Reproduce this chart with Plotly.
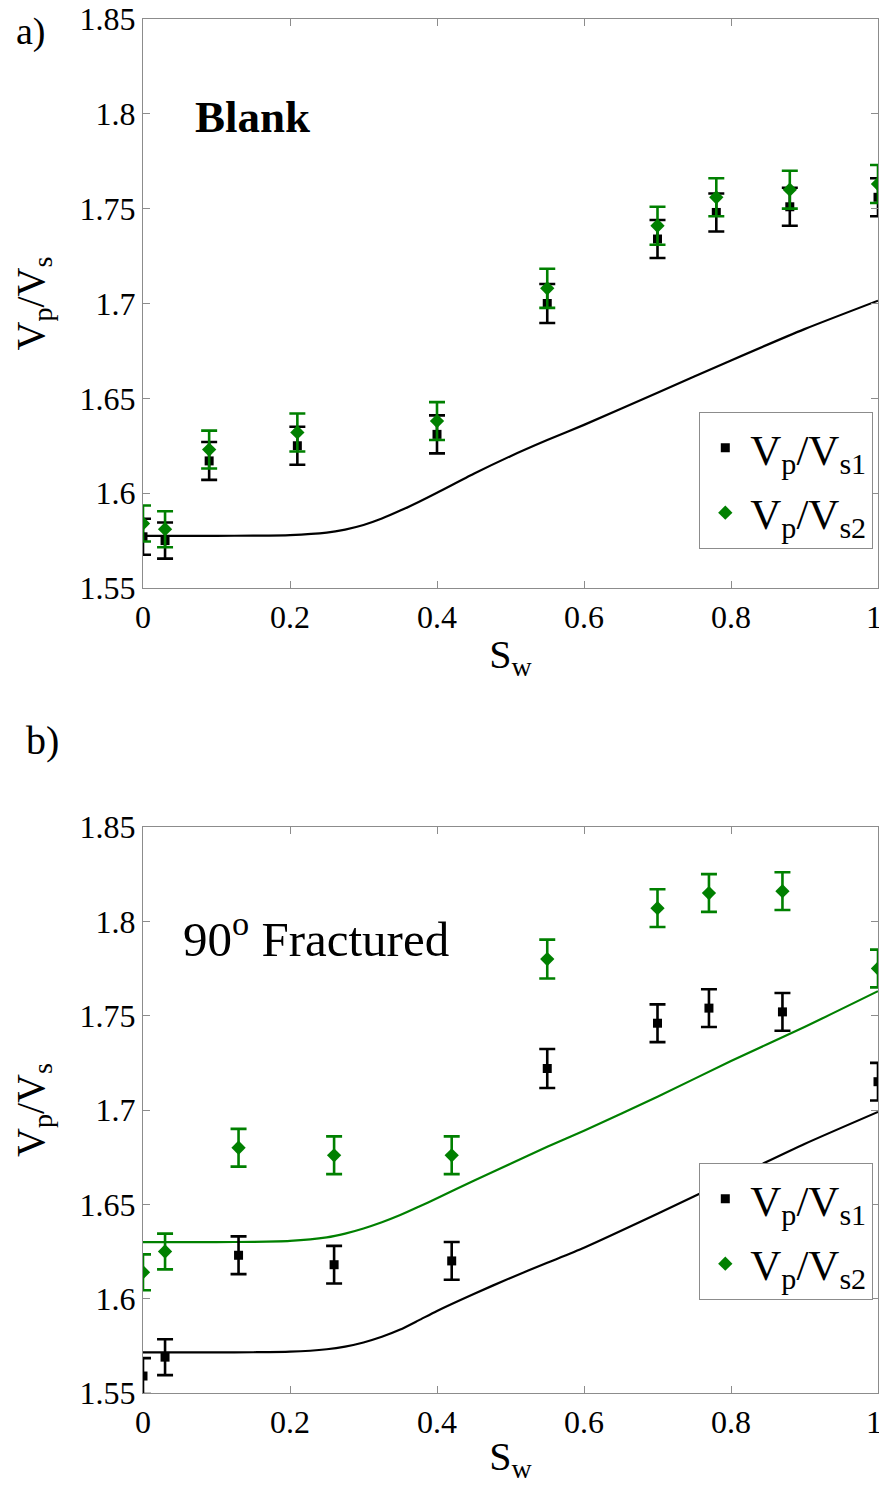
import plotly.graph_objects as go

# (a) Blank sample - measured points
sw_blank = [0, 0.03, 0.09, 0.21, 0.40, 0.55, 0.70, 0.78, 0.88, 1.0]
vs1_blank = [1.577, 1.575, 1.617, 1.625, 1.631, 1.700, 1.734, 1.748, 1.751, 1.756]
vs2_blank = [1.584, 1.581, 1.623, 1.632, 1.638, 1.708, 1.741, 1.756, 1.760, 1.763]
err_blank = [0.0095, 0.0095, 0.01, 0.01, 0.01, 0.0103, 0.01, 0.01, 0.01, 0.01]

# (b) 90 deg fractured sample - measured points
sw_frac = [0, 0.03, 0.13, 0.26, 0.42, 0.55, 0.70, 0.77, 0.87, 1.0]
vs1_frac = [1.559, 1.569, 1.623, 1.618, 1.620, 1.722, 1.746, 1.754, 1.752, 1.715]
vs2_frac = [1.614, 1.625, 1.680, 1.676, 1.676, 1.780, 1.807, 1.815, 1.816, 1.775]
err_frac = [0.0095, 0.0095, 0.01, 0.01, 0.01, 0.0103, 0.01, 0.01, 0.01, 0.01]

# model curves
sw_model = [0, 0.1, 0.15, 0.2, 0.25, 0.275, 0.3, 0.325, 0.35, 0.375, 0.4,
            0.45, 0.5, 0.55, 0.6, 0.7, 0.8, 0.9, 1.0]
model_blank = [1.5775, 1.5775, 1.5776, 1.5779, 1.5792, 1.5808, 1.5832, 1.5866, 1.5908, 1.5954, 1.6002,
               1.6102, 1.6195, 1.628, 1.636, 1.653, 1.670, 1.6865, 1.7015]
model_frac1 = [1.5715, 1.5715, 1.5716, 1.5719, 1.5732, 1.5746, 1.5768, 1.5798, 1.5836, 1.5885, 1.5935,
               1.6025, 1.611, 1.619, 1.627, 1.645, 1.6635, 1.682, 1.699]
model_frac2 = [1.630, 1.630, 1.6301, 1.6306, 1.6325, 1.6345, 1.6372, 1.6405, 1.6443, 1.6487, 1.6532,
               1.6625, 1.6715, 1.6805, 1.689, 1.707, 1.726, 1.744, 1.763]

x_ticks = [0, 0.2, 0.4, 0.6, 0.8, 1]
x_labels = ["0", "0.2", "0.4", "0.6", "0.8", "1&nbsp;"]
y_ticks = [1.55, 1.6, 1.65, 1.7, 1.75, 1.8, 1.85]
y_labels = ["1.55", "1.6", "1.65", "1.7", "1.75", "1.8", "1.85"]

BLACK = "black"
GREEN = "#008000"
FONT = "Liberation Serif"
# page has an 8px body margin, so the figure is a bit smaller than the window
OFF = 8
W, H = 887 - 2 * OFF, 1492 - 2 * OFF


def px(v):
    return min(max((v - OFF) / W, 0), 1)


def py(v):
    return min(max(1 - (v - OFF) / H, 0), 1)


fig = go.Figure()


def add_panel(fig, xa, ya, sw, v1, v2, err, lines, legend):
    for sx, sy, col in lines:
        fig.add_trace(go.Scatter(x=sx, y=sy, mode="lines",
                                 line=dict(color=col, width=2.2, shape="spline", smoothing=0.6),
                                 xaxis=xa, yaxis=ya, showlegend=False, hoverinfo="skip"))
    fig.add_trace(go.Scatter(x=sw, y=v1, mode="markers", name="V<sub>p</sub>/V<sub>s1</sub>",
                             marker=dict(symbol="square", size=9, color=BLACK),
                             error_y=dict(type="data", array=err, color=BLACK, thickness=2.6, width=8),
                             xaxis=xa, yaxis=ya, legend=legend, legendgroup=legend + "a"))
    fig.add_trace(go.Scatter(x=sw, y=v2, mode="markers", name="V<sub>p</sub>/V<sub>s2</sub>",
                             marker=dict(symbol="diamond", size=11, color=GREEN),
                             error_y=dict(type="data", array=err, color=GREEN, thickness=2.6, width=8),
                             xaxis=xa, yaxis=ya, legend=legend, legendgroup=legend + "b"))


add_panel(fig, "x", "y", sw_blank, vs1_blank, vs2_blank, err_blank,
          [(sw_model, model_blank, BLACK)], "legend")
add_panel(fig, "x2", "y2", sw_frac, vs1_frac, vs2_frac, err_frac,
          [(sw_model, model_frac1, BLACK), (sw_model, model_frac2, GREEN)], "legend2")

xdom = [px(143), px(878)]
top_dom = [py(588), py(19)]
bot_dom = [py(1393), py(827)]

axis_style = dict(showline=True, linecolor="#8c8c8c", linewidth=1.3, mirror="ticks",
                  ticks="inside", ticklen=7, tickcolor="#8c8c8c", showgrid=False, zeroline=False,
                  automargin=False, ticklabeloverflow="allow",
                  tickfont=dict(family=FONT, size=32, color="black"))

xtitle = dict(text="S<sub>w</sub>", font=dict(family=FONT, size=40, color="black"), standoff=6)
ytitle = dict(text="V<sub>p</sub>/V<sub>s</sub>", font=dict(family=FONT, size=40, color="black"), standoff=22)

legend_style = dict(xanchor="right", yanchor="top", bgcolor="white", bordercolor="#8c8c8c",
                    borderwidth=1.3, tracegroupgap=6, itemwidth=40,
                    font=dict(family=FONT, size=43, color="black"))

fig.update_layout(
    width=W, height=H, margin=dict(l=0, r=0, t=0, b=0),
    paper_bgcolor="white", plot_bgcolor="white",
    xaxis=dict(domain=xdom, anchor="y", range=[0, 1], tickvals=x_ticks, ticktext=x_labels,
               title=xtitle, **axis_style),
    yaxis=dict(domain=top_dom, anchor="x", range=[1.55, 1.85], tickvals=y_ticks, ticktext=y_labels,
               title=ytitle, **axis_style),
    xaxis2=dict(domain=xdom, anchor="y2", range=[0, 1], tickvals=x_ticks, ticktext=x_labels,
                title=xtitle, **axis_style),
    yaxis2=dict(domain=bot_dom, anchor="x2", range=[1.55, 1.85], tickvals=y_ticks, ticktext=y_labels,
                title=ytitle, **axis_style),
    legend=dict(x=px(873), y=py(412), **legend_style),
    legend2=dict(x=px(873), y=py(1163), **legend_style),
    showlegend=True,
)

fig.add_annotation(text="a)", x=px(14), y=py(2), xref="paper", yref="paper",
                   xanchor="left", yanchor="top", showarrow=False,
                   font=dict(family=FONT, size=38, color="black"))
fig.add_annotation(text="b)", x=px(24), y=py(716), xref="paper", yref="paper",
                   xanchor="left", yanchor="top", showarrow=False,
                   font=dict(family=FONT, size=40, color="black"))
fig.add_annotation(text="<b>Blank</b>", x=px(193), y=py(117), xref="paper", yref="paper",
                   xanchor="left", yanchor="middle", showarrow=False,
                   font=dict(family=FONT, size=45, color="black"))
fig.add_annotation(text="90<sup>o</sup> Fractured", x=px(181), y=py(935), xref="paper", yref="paper",
                   xanchor="left", yanchor="middle", showarrow=False,
                   font=dict(family=FONT, size=49, color="black"))

fig.write_html("out.html")
